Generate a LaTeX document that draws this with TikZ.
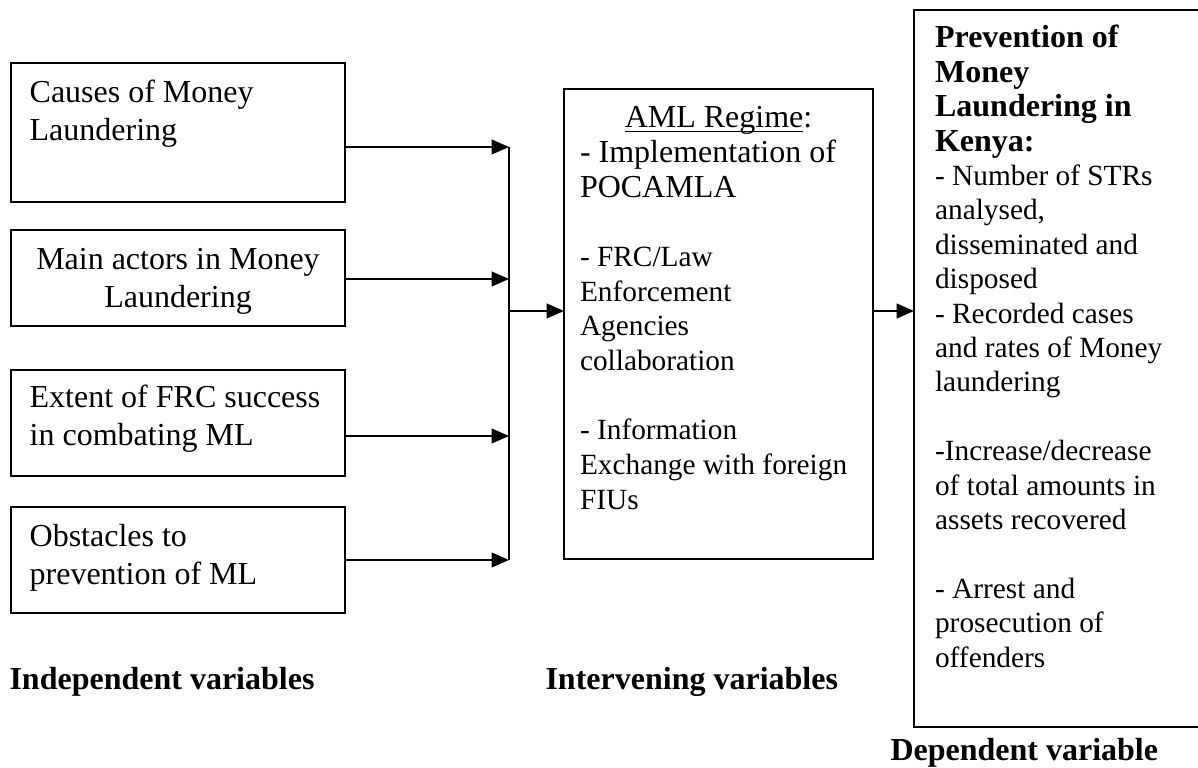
\documentclass[tikz,border=0pt]{standalone}
\usepackage{fontspec}
\setmainfont{Liberation Serif}
\usetikzlibrary{arrows.meta,positioning}

\begin{document}
\begin{tikzpicture}[
      x=0.375pt, y=-0.375pt,
      box/.style={draw, line width=0.75pt, anchor=north west, outer sep=0pt,
                  inner sep=0pt, inner xsep=7pt, align=flush left},
      ivar/.style={box, text width=111.25pt, font=\fontsize{12}{14.25}\selectfont,
                   text height=15pt},
      lbl/.style={anchor=base west, inner sep=0pt, font=\fontsize{12}{14}\selectfont\bfseries},
      arrow/.style={-{Triangle[length=6.5pt, width=5.5pt]}, line width=0.75pt},
    ]

    \useasboundingbox (0,0) rectangle (1198,768);

    % independent variables
    \node[ivar, text depth=37.1pt] (cause) at (11,63) {Causes of Money\\Laundering};
    \node[ivar, align=flush center, text depth=21pt] (actor) at (11,230) {Main actors in Money\\Laundering};
    \node[ivar, text height=14.25pt, text depth=25.5pt] (extent) at (11,370) {Extent of FRC success\\in combating ML};
    \node[ivar, text depth=24.75pt] (obst) at (11,507) {Obstacles to\\prevention of ML};

    % intervening variables
    \node[box, inner xsep=6pt, text width=103.9pt, font=\fontsize{11}{13}\selectfont,
          text height=14.6pt, text depth=161.6pt] (aml) at (564,89)
      {{\fontsize{12}{13}\selectfont\makebox[\linewidth]{\underline{\smash{AML Regime}}:}\\
        - Implementation of\\POCAMLA}\\[13pt]
       - FRC/Law\\Enforcement\\Agencies\\collaboration\\[13pt]
       - Information\\Exchange with foreign\\FIUs};

    % dependent variable
    \node[box, inner xsep=7.9pt, text width=95.2pt, font=\fontsize{11}{12.9}\selectfont,
          text height=14.25pt, text depth=254.6pt] (prev) at (914,10)
      {{\bfseries\fontsize{12}{12.9}\selectfont Prevention of\\Money\\Laundering in\\Kenya:}\\
       - Number of STRs\\analysed,\\disseminated and\\disposed\\
       - Recorded cases\\and rates of Money\\laundering\\[12.9pt]
       -Increase/decrease\\of total amounts in\\assets recovered\\[12.9pt]
       - Arrest and\\prosecution of\\offenders};

    % labels
    \node[lbl] (indep) at (9,689) {Independent variables};
    \node[lbl] (interv) at (545,689) {Intervening variables};
    \node[lbl] (depend) at (890,760) {Dependent variable};

    % collecting line
    \coordinate (j1) at (509,147);
    \coordinate (j2) at (509,279);
    \coordinate (j3) at (509,436);
    \coordinate (j4) at (509,560);
    \coordinate (jm) at (509,311);
    \draw[line width=0.75pt] (j1) -- (j4);

    \draw[arrow] (cause.east |- j1) -- (j1);
    \draw[arrow] (actor.east |- j2) -- (j2);
    \draw[arrow] (extent.east |- j3) -- (j3);
    \draw[arrow] (obst.east |- j4) -- (j4);

    \draw[arrow] (jm) -- (aml.west |- jm);
    \draw[arrow] (aml.east |- jm) -- (prev.west |- jm);
  \end{tikzpicture}
\end{document}
